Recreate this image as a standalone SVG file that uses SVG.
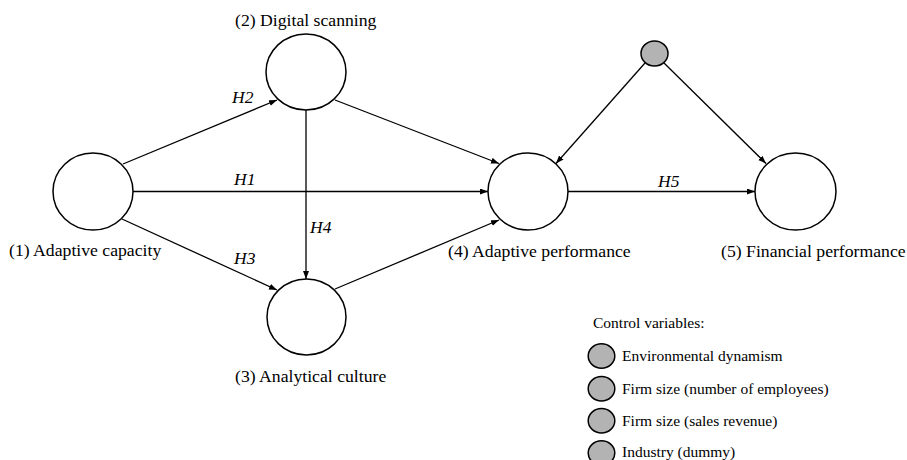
<svg xmlns="http://www.w3.org/2000/svg" width="907" height="460" viewBox="0 0 907 460">
<style>
text{font-family:"Liberation Serif","DejaVu Serif",serif;fill:#000}
.lbl{font-size:17.7px}
.h{font-size:17.5px;font-style:italic}
.leg{font-size:15.5px}
.node{fill:#fff;stroke:#000;stroke-width:1.5}
.ctl{fill:#b3b3b3;stroke:#000;stroke-width:1.5}
.edge{stroke:#000;stroke-width:1.3;fill:none;marker-end:url(#ah)}
</style>
<defs>
<marker id="ah" markerUnits="userSpaceOnUse" markerWidth="9" markerHeight="7" refX="8" refY="3" orient="auto">
<path d="M0,0 L8,3 L0,6 z" fill="#000"/>
</marker>
</defs>
<rect width="907" height="460" fill="#fff"/>
<g id="connectors">
<line class="edge" x1="123" y1="164" x2="277" y2="100"/>
<line class="edge" x1="133" y1="191.5" x2="488" y2="191.5"/>
<line class="edge" x1="122" y1="219" x2="277" y2="290"/>
<line class="edge" x1="306" y1="110" x2="306" y2="279"/>
<line class="edge" x1="335" y1="100" x2="499" y2="163.5"/>
<line class="edge" x1="335" y1="289" x2="499" y2="220"/>
<line class="edge" x1="568" y1="191.5" x2="755" y2="191.5"/>
<line class="edge" x1="645" y1="63" x2="556" y2="163.5"/>
<line class="edge" x1="664" y1="63" x2="766" y2="163.5"/>
<text class="h" x="232" y="103" font-family="Liberation Serif, serif">H2</text>
<text class="h" x="234" y="185" font-family="Liberation Serif, serif">H1</text>
<text class="h" x="310" y="233" font-family="Liberation Serif, serif">H4</text>
<text class="h" x="234" y="264" font-family="Liberation Serif, serif">H3</text>
<text class="h" x="658" y="187" font-family="Liberation Serif, serif">H5</text>
</g>
<g id="n1">
<ellipse class="node" cx="93" cy="191.5" rx="40" ry="38.5"/>
<text class="lbl" x="9" y="256">(1) Adaptive capacity</text>
</g>
<g id="n2">
<ellipse class="node" cx="306" cy="72" rx="40" ry="38"/>
<text class="lbl" x="235" y="26">(2) Digital scanning</text>
</g>
<g id="n3">
<ellipse class="node" cx="306.5" cy="317" rx="39.5" ry="38"/>
<text class="lbl" x="235" y="382">(3) Analytical culture</text>
</g>
<g id="n4">
<ellipse class="node" cx="528" cy="191.5" rx="40" ry="38.5"/>
<text class="lbl" x="448" y="257">(4) Adaptive performance</text>
</g>
<g id="n5">
<ellipse class="node" cx="795.5" cy="191.5" rx="40.5" ry="38.5"/>
<text class="lbl" x="721" y="257">(5) Financial performance</text>
</g>
<g id="control">
<ellipse class="ctl" cx="654.5" cy="53.5" rx="13.5" ry="12.5"/>
</g>
<g id="legend">
<text class="leg" x="593" y="328">Control variables:</text>
<ellipse class="ctl" cx="601.5" cy="356" rx="13.3" ry="12.2"/>
<text class="leg" x="622" y="360.5">Environmental dynamism</text>
<ellipse class="ctl" cx="601.5" cy="388.7" rx="13.3" ry="12.2"/>
<text class="leg" x="622" y="393.5">Firm size (number of employees)</text>
<ellipse class="ctl" cx="601.5" cy="420.8" rx="13.3" ry="12.2"/>
<text class="leg" x="622" y="426">Firm size (sales revenue)</text>
<ellipse class="ctl" cx="601.5" cy="453" rx="13.3" ry="12.2"/>
<text class="leg" x="622" y="456.7">Industry (dummy)</text>
</g>
</svg>
